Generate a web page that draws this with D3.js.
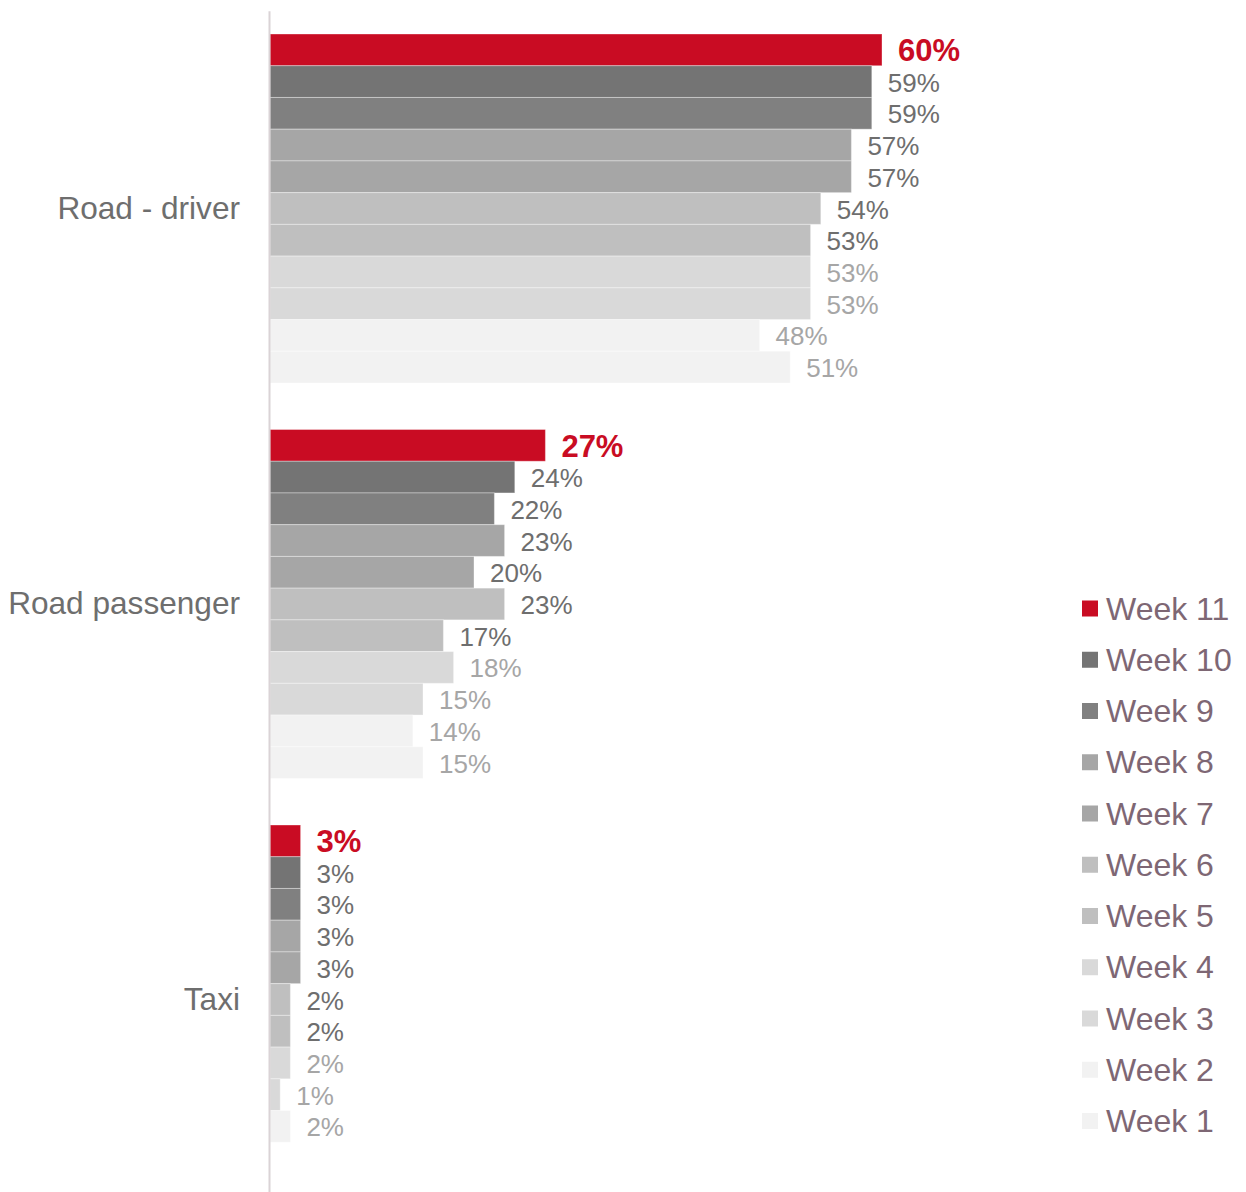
<!DOCTYPE html>
<html lang="en">
<head>
    <meta charset="UTF-8">
    <title>Travel mode by week</title>
    <script src="https://d3js.org/d3.v7.min.js"></script>
    <style>
        body { margin: 0; background: #fff; }
        svg { display: block; }
        svg * { font-family: 'Liberation Sans', Arial, sans-serif; }
    </style>
</head>
<body>
<svg></svg>
<script>
    const modes = ['Road - driver', 'Road passenger', 'Taxi'];
    const weeks = ['Week 11', 'Week 10', 'Week 9', 'Week 8', 'Week 7', 'Week 6', 'Week 5', 'Week 4', 'Week 3', 'Week 2', 'Week 1'];
    // values per mode, in the same order as weeks (Week 11 first)
    const roadDriver = [60, 59, 59, 57, 57, 54, 53, 53, 53, 48, 51];
    const roadPassenger = [27, 24, 22, 23, 20, 23, 17, 18, 15, 14, 15];
    const taxi = [3, 3, 3, 3, 3, 2, 2, 2, 1, 2, null];
    const barColors = ['#C90C23', '#747474', '#808080', '#A6A6A6', '#A6A6A6', '#BFBFBF', '#BFBFBF', '#D9D9D9', '#D9D9D9', '#F2F2F2', '#F2F2F2'];
    const labelColors = ['#C90C23', '#6E6E6E', '#6E6E6E', '#6E6E6E', '#6E6E6E', '#6E6E6E', '#6E6E6E', '#A6A6A6', '#A6A6A6', '#A6A6A6', '#A6A6A6'];

    const seriesByMode = [roadDriver, roadPassenger, taxi];

    const width = 1246, height = 1192;
    const svg = d3.select("svg").attr("width", width).attr("height", height);

    const x = d3.scaleLinear().domain([0, 60]).range([270, 882]);

    const y = d3.scaleBand()
        .domain(modes)
        .range([10.75, 1197.25])
        .paddingInner(0.1176)
        .paddingOuter(0.0588);

    const yInner = d3.scaleBand()
        .domain(weeks)
        .range([0, y.bandwidth()]);

    const colorOf = d3.scaleOrdinal().domain(weeks).range(barColors);
    const labelColorOf = d3.scaleOrdinal().domain(weeks).range(labelColors);

    // rows for drawing
    const rows = [];
    modes.forEach((m, mi) => {
        weeks.forEach((w, wi) => {
            const v = seriesByMode[mi][wi];
            if (v !== null) rows.push({ mode: m, week: w, value: v });
        });
    });

    const groups = svg.append("g");

    groups.selectAll("rect.bar")
        .data(rows)
        .enter().append("rect")
        .attr("class", "bar")
        .attr("x", x(0))
        .attr("y", d => y(d.mode) + yInner(d.week))
        .attr("width", d => x(d.value) - x(0))
        .attr("height", yInner.bandwidth())
        .attr("fill", d => colorOf(d.week))
        .attr("stroke", "#fff")
        .attr("stroke-opacity", 0.35)
        .attr("stroke-width", 1);

    groups.selectAll("text.value")
        .data(rows)
        .enter().append("text")
        .attr("class", "value")
        .attr("x", d => x(d.value) + 16)
        .attr("y", d => y(d.mode) + yInner(d.week) + yInner.bandwidth() / 2 + 1)
        .attr("dominant-baseline", "central")
        .attr("fill", d => labelColorOf(d.week))
        .style("font-size", d => d.week === 'Week 11' ? "31px" : "26px")
        .style("font-weight", d => d.week === 'Week 11' ? "bold" : "normal")
        .text(d => d.value + "%");

    // category axis
    const yAxis = svg.append("g")
        .attr("transform", `translate(${x(0) - 1},0)`)
        .call(d3.axisLeft(y).tickSize(0).tickPadding(29));
    yAxis.select(".domain").attr("stroke", "#DAD3D6").attr("stroke-width", 2);
    yAxis.selectAll("text")
        .style("font-size", "31.6px")
        .attr("fill", "#6E6E6E");

    // legend
    const legend = svg.append("g").attr("transform", "translate(1082,608.5)");
    const legendItems = legend.selectAll("g")
        .data(weeks)
        .enter().append("g")
        .attr("transform", (d, i) => `translate(0,${i * 51.25})`);
    legendItems.append("rect")
        .attr("x", 0).attr("y", -8)
        .attr("width", 16).attr("height", 16)
        .attr("fill", d => colorOf(d));
    legendItems.append("text")
        .attr("x", 24)
        .attr("y", 0)
        .attr("dominant-baseline", "central")
        .style("font-size", "32px")
        .attr("fill", "#7E6774")
        .text(d => d);
</script>
</body>
</html>
